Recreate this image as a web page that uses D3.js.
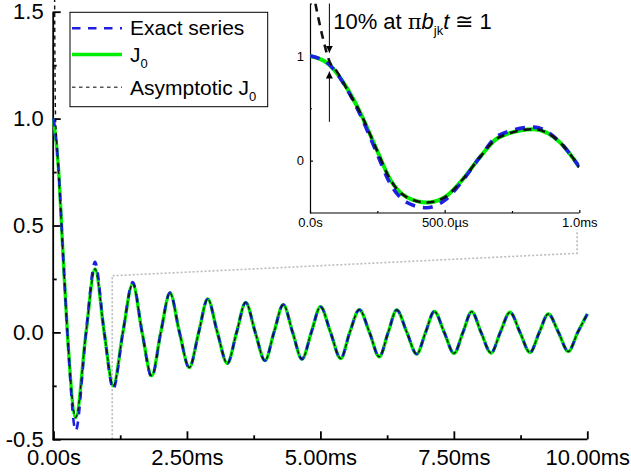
<!DOCTYPE html>
<html>
<head>
<meta charset="utf-8">
<script src="https://cdn.jsdelivr.net/npm/d3@7"></script>
<style>
body { margin: 0; background: #fff; }
text { font-family: "Liberation Sans", Arial, sans-serif; fill: #000; }
</style>
</head>
<body>
<div id="chart"></div>
<script>
w = 631;
h = 473;

// main plot: time in ms
var mainT = [0, 0.09, 0.18, 0.26, 0.416, 0.61, 0.778, 0.95, 1.12, 1.30, 1.484, 1.66, 1.84, 2.01, 2.182, 2.36,
	2.544, 2.72, 2.889, 3.07, 3.256, 3.43, 3.601, 3.78, 3.962, 4.13, 4.305, 4.48, 4.655, 4.83, 5.002, 5.19,
	5.38, 5.55, 5.729, 5.92, 6.103, 6.27, 6.43, 6.62, 6.804, 6.97, 7.134, 7.32, 7.503, 7.67, 7.834, 8.01,
	8.196, 8.37, 8.552, 8.74, 8.926, 9.10, 9.27, 9.46, 9.644, 9.82, 10.0];
var mainJ0 = [1.0, 0.78, 0.36, 0, -0.398, 0, 0.297, 0, -0.25, 0, 0.227, 0, -0.203, 0, 0.184, 0,
	-0.164, 0, 0.156, 0, -0.145, 0, 0.14, 0, -0.132, 0, 0.13, 0, -0.125, 0, 0.12, 0,
	-0.122, 0, 0.106, 0, -0.114, 0, 0.105, 0, -0.101, 0, 0.098, 0, -0.098, 0, 0.097, 0,
	-0.096, 0, 0.094, 0, -0.094, 0, 0.086, 0, -0.089, 0, 0.086];
var mainExact = [1.0, 0.78, 0.36, 0, -0.46, 0, 0.33, 0, -0.265, 0, 0.235, 0, -0.21, 0, 0.186, 0,
	-0.166, 0, 0.156, 0, -0.145, 0, 0.14, 0, -0.132, 0, 0.13, 0, -0.125, 0, 0.12, 0,
	-0.122, 0, 0.106, 0, -0.114, 0, 0.105, 0, -0.101, 0, 0.098, 0, -0.098, 0, 0.097, 0,
	-0.096, 0, 0.094, 0, -0.094, 0, 0.086, 0, -0.089, 0, 0.086];
// asymptotic J0 blows up near t=0, then sits on J0
var mainAsymHeadT = [0.02, 0.035, 0.06, 0.09, 0.18];
var mainAsymHeadV = [1.6, 1.05, 0.9, 0.77, 0.36];

// inset: first millisecond
var insetT = [0, 0.07, 0.14, 0.19, 0.245, 0.30, 0.36, 0.433, 0.50, 0.57, 0.63, 0.70, 0.83, 0.93, 1.0];
var insetJ0 = [1.0, 0.92, 0.68, 0.44, 0.12, -0.19, -0.35, -0.40, -0.35, -0.17, 0.03, 0.22, 0.30, 0.17, -0.06];
var insetExact = [1.0, 0.92, 0.67, 0.42, 0.09, -0.23, -0.40, -0.45, -0.38, -0.18, 0.03, 0.24, 0.32, 0.17, -0.06];
var insetAsymHeadT = [0.02, 0.045, 0.072, 0.10, 0.14, 0.19];
var insetAsymHeadV = [1.5, 1.2, 0.95, 0.85, 0.67, 0.44];

var mainXTicks = [0, 2.5, 5, 7.5, 10];
var mainXLabels = ["0.00s", "2.50ms", "5.00ms", "7.50ms", "10.00ms"];
var mainXMinor = [1.25, 3.75, 6.25, 8.75];
var mainYTicks = [-0.5, 0, 0.5, 1, 1.5];
var mainYLabels = ["-0.5", "0.0", "0.5", "1.0", "1.5"];
var mainYMinor = [-0.25, 0.25, 0.75, 1.25];
var insetXTicks = [0, 0.5, 1];
var insetXLabels = ["0.0s", "500.0\u00b5s", "1.0ms"];
var insetXMinor = [0.25, 0.75];
var insetYTicks = [0, 1];
var insetYLabels = ["0", "1"];
var insetYMinor = [0.5, 1.5];

var legendNames = ["Exact series", "J", "Asymptotic J"];

function zip(ts, vs) { return ts.map(function(t, i) { return [t, vs[i]]; }); }

var mainAsym = zip(mainAsymHeadT, mainAsymHeadV).concat(zip(mainT, mainJ0).slice(3));
var insetAsym = zip(insetAsymHeadT, insetAsymHeadV).concat(zip(insetT, insetJ0).slice(4));

var svg = d3.select("#chart").append("svg")
	.attr("width", w)
	.attr("height", h);

xScale = d3.scaleLinear().domain([0, 10]).range([53.5, 587.3]);
yScale = d3.scaleLinear().domain([-0.5, 1.5]).range([439.3, 11.7]);

xInset = d3.scaleLinear().domain([0, 1]).range([310, 579.3]);
yInset = d3.scaleLinear().domain([-0.5, 1.5]).range([213, 3.5]);

var styles = {
	j0: { stroke: "#00ee00", width: 3.4, dash: null },
	exact: { stroke: "#1f1fe0", width: 2.6, dash: "8,7" },
	asym: { stroke: "#111", width: 1.4, dash: "4,3.5" }
};

// dotted zoom connector
svg.append("path")
	.attr("d", "M" + xScale(1.1) + "," + yScale(-0.5) +
		"L" + xScale(1.1) + "," + yScale(0.265) +
		"L" + xInset(0.992) + "," + yScale(0.37) +
		"L" + xInset(0.992) + "," + yInset(-0.66))
	.attr("fill", "none")
	.attr("stroke", "#bbb")
	.attr("stroke-width", 1.6)
	.attr("stroke-dasharray", "2,2");

function drawAxes(g, x, y, o) {
	var xa = g.append("g").attr("transform", "translate(0," + y.range()[0] + ")")
		.call(d3.axisBottom(x).tickValues(o.xt).tickFormat(function(d, i) { return o.xl[i]; })
			.tickSizeInner(-o.major).tickSizeOuter(0).tickPadding(o.xpad));
	g.append("g").attr("transform", "translate(0," + y.range()[0] + ")")
		.call(d3.axisBottom(x).tickValues(o.xm).tickFormat("").tickSizeInner(-o.minor).tickSizeOuter(0))
		.select(".domain").remove();
	var ya = g.append("g").attr("transform", "translate(" + (x.range()[0] - o.shift) + ",0)")
		.call(d3.axisLeft(y).tickValues(o.yt).tickFormat(function(d, i) { return o.yl[i]; })
			.tickSizeInner(-o.major).tickSizeOuter(0).tickPadding(o.ypad));
	g.append("g").attr("transform", "translate(" + (x.range()[0] - o.shift) + ",0)")
		.call(d3.axisLeft(y).tickValues(o.ym).tickFormat("").tickSizeInner(-o.minor).tickSizeOuter(0))
		.select(".domain").remove();
	g.selectAll(".domain").attr("stroke", "#000").attr("stroke-width", o.lw);
	g.selectAll(".tick line").attr("stroke", "#000").attr("stroke-width", o.lw);
	g.selectAll(".tick text").attr("font-size", o.fs).attr("fill", "#000")
		.style("font-family", "'Liberation Sans', Arial, sans-serif");
	xa.select(".domain").attr("d", "M" + (x.range()[0] - o.shift) + ",0H" + x.range()[1]);
}

var mainG = svg.append("g");
drawAxes(mainG, xScale, yScale, { xt: mainXTicks, xl: mainXLabels, xm: mainXMinor,
	yt: mainYTicks, yl: mainYLabels, ym: mainYMinor, major: 8, minor: 4, xpad: 10, ypad: 9,
	lw: 1.8, fs: 22, shift: 0.8 });

var insetG = svg.append("g");
drawAxes(insetG, xInset, yInset, { xt: insetXTicks, xl: insetXLabels, xm: insetXMinor,
	yt: insetYTicks, yl: insetYLabels, ym: insetYMinor, major: 3, minor: 2, xpad: 5, ypad: 6,
	lw: 1.2, fs: 13, shift: 0 });

svg.append("clipPath").attr("id", "insetClip").append("rect")
	.attr("x", xInset(0)).attr("y", yInset(1.5))
	.attr("width", xInset(1) - xInset(0)).attr("height", yInset(-0.5) - yInset(1.5));

function drawSeries(g, x, y, pts, st, k) {
	var line = d3.line().x(function(d) { return x(d[0]); }).y(function(d) { return y(d[1]); })
		.curve(d3.curveMonotoneX);
	g.append("path").datum(pts)
		.attr("d", line)
		.attr("fill", "none")
		.attr("stroke", st.stroke)
		.attr("stroke-width", st.width * k)
		.attr("stroke-dasharray", st.dash)
		.attr("stroke-linejoin", "round");
}

var mainCurves = svg.append("g");
drawSeries(mainCurves, xScale, yScale, zip(mainT, mainJ0), styles.j0, 1);
drawSeries(mainCurves, xScale, yScale, zip(mainT, mainExact), styles.exact, 1);
drawSeries(mainCurves, xScale, yScale, mainAsym, styles.asym, 1);

var insetCurves = svg.append("g").attr("clip-path", "url(#insetClip)");
drawSeries(insetCurves, xInset, yInset, zip(insetT, insetJ0), { stroke: "#00ee00", width: 4, dash: null }, 1);
drawSeries(insetCurves, xInset, yInset, zip(insetT, insetExact), { stroke: "#1f1fe0", width: 3.6, dash: "10,8" }, 1);
drawSeries(insetCurves, xInset, yInset, insetAsym, { stroke: "#111", width: 2.6, dash: "8,6" }, 1);

// annotation arrows
svg.append("defs").append("marker")
	.attr("id", "ah").attr("viewBox", "0 0 10 10").attr("refX", 10).attr("refY", 5)
	.attr("markerWidth", 7).attr("markerHeight", 7).attr("markerUnits", "userSpaceOnUse")
	.attr("orient", "auto")
	.append("path").attr("d", "M0,0L10,5L0,10z").attr("fill", "#000");

var arrowT = 0.072;
svg.append("line")
	.attr("x1", xInset(arrowT)).attr("y1", yInset(1.5))
	.attr("x2", xInset(arrowT)).attr("y2", yInset(1.03))
	.attr("stroke", "#000").attr("stroke-width", 1).attr("marker-end", "url(#ah)");
svg.append("line")
	.attr("x1", xInset(arrowT)).attr("y1", yInset(0.37))
	.attr("x2", xInset(arrowT)).attr("y2", yInset(0.85))
	.attr("stroke", "#000").attr("stroke-width", 1).attr("marker-end", "url(#ah)");

var note = svg.append("text")
	.attr("x", xInset(0.086)).attr("y", yInset(1.26))
	.attr("font-size", 22);
note.append("tspan").text("10% at ");
note.append("tspan").text("\u03c0").style("font-family", "'DejaVu Serif', serif").attr("font-size", 21);
note.append("tspan").text("b").attr("font-style", "italic");
note.append("tspan").text("jk").attr("font-size", 13).attr("dy", 6);
note.append("tspan").text("t").attr("font-style", "italic").attr("dy", -6);
note.append("tspan").text(" \u2245 1");

// legend
var lg = svg.append("g").attr("transform", "translate(70,12.3)");
lg.append("rect").attr("width", 197.7).attr("height", 94.4)
	.attr("fill", "#fff").attr("stroke", "#000").attr("stroke-width", 1);
var rowY = [16, 42.2, 75];
var rowBase = [23, 49.4, 82.7];
var legendStyles = [
	{ stroke: "#1f1fe0", width: 2.6, dash: "8.5,7.5" },
	{ stroke: "#00ee00", width: 3.4, dash: null },
	{ stroke: "#555", width: 1.4, dash: "3.5,3.5" }
];
legendNames.forEach(function(name, i) {
	lg.append("line").attr("x1", 2).attr("x2", 52).attr("y1", rowY[i]).attr("y2", rowY[i])
		.attr("stroke", legendStyles[i].stroke).attr("stroke-width", legendStyles[i].width)
		.attr("stroke-dasharray", legendStyles[i].dash);
	var t = lg.append("text").attr("x", 60).attr("y", rowBase[i]).attr("font-size", 21).text(name);
	if (i > 0) t.append("tspan").text("0").attr("font-size", 13).attr("dy", 6);
});
</script>
</body>
</html>
